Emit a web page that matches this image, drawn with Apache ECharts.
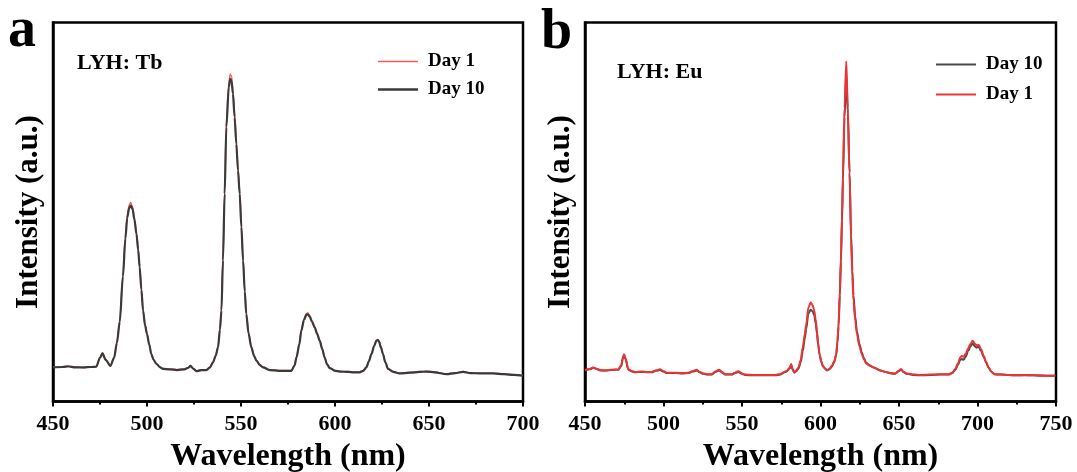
<!DOCTYPE html>
<html><head><meta charset="utf-8">
<script src="https://cdn.jsdelivr.net/npm/echarts@6/dist/echarts.min.js"></script>
<style>html,body{margin:0;padding:0;background:#fff}#c{width:1077px;height:472px}</style>
</head><body><div id="c"></div>
<script>
const tbWavelength = [450,455,458,462,466,470,473,475,476.3,478,480.5,482.5,484,485.5,487.2,488.5,489.5,490.5,491.3,492.3,493.3,494.4,495.3,496.1,497,497.9,499,500,501.2,502.3,503.5,505,507,508.5,512,516,520,522,523.1,524.5,526.3,529,531.6,533.5,535.1,536.5,537.8,538.8,539.6,540.4,541.3,542.2,543.5,544.3,545,545.7,546.6,547.5,548.4,549.3,550.2,551.1,552,552.8,554,555.5,557,558.2,560,561.7,565.3,570,576.8,578.5,579.5,581,582.1,583.5,584.8,585.6,586.5,587.8,589.2,590.5,591.9,593.2,594.5,595.8,597.2,600,602.5,607,610,613.1,615,616.7,618,619.4,620.8,622,622.8,623.4,624.5,625.5,626.8,628.2,631,634.4,640,645,648.6,653,659.3,664,668.1,672,678,684,690,695,700];
const tbDay10 = [9.0,9.1,9.3,9.0,9.0,9.1,9.2,11.5,12.7,11.0,
9.4,11.5,15.5,21.0,33.0,43.0,48.5,51.0,51.7,50.8,
48.0,44.2,40.0,35.4,29.5,24.0,20.0,17.8,15.0,12.5,
11.0,9.9,9.0,8.6,8.5,8.3,8.5,8.9,9.4,8.7,
8.0,8.3,8.3,9.0,10.3,12.0,14.3,19.0,24.0,37.2,
54.8,72.4,82.9,85.1,84.5,81.2,75.0,68.0,61.0,54.8,
46.0,37.2,29.0,23.1,18.0,14.3,12.0,10.8,9.6,9.0,
8.3,8.1,8.1,9.5,11.6,15.0,18.7,21.5,22.9,23.0,
22.4,21.0,19.5,17.8,16.0,13.8,11.6,9.8,8.8,8.1,
7.9,7.8,7.7,7.7,8.1,9.0,10.6,12.5,14.6,16.0,
16.2,15.8,14.2,12.5,10.3,8.6,7.8,7.4,7.6,7.8,
7.9,7.7,7.2,7.5,7.8,7.5,7.4,7.4,7.2,7.0,
6.8];
const tbDay1 = [9.1,9.0,9.2,9.1,8.9,9.2,9.1,11.6,12.9,11.1,
9.5,11.6,15.7,21.3,33.5,43.6,49.3,51.8,52.5,51.5,
48.6,44.6,40.4,35.7,29.8,24.3,20.2,18.0,15.1,12.6,
11.1,10.0,9.1,8.7,8.6,8.4,8.6,9.0,9.5,8.8,
8.1,8.4,8.4,9.1,10.4,12.2,14.6,19.4,24.5,37.9,
55.8,73.6,84.2,86.4,85.8,82.3,76.0,69.0,61.9,55.6,
46.7,37.8,29.5,23.5,18.3,14.5,12.1,10.9,9.7,9.1,
8.4,8.2,8.2,9.6,11.8,15.2,19.0,21.8,23.2,23.4,
22.8,21.4,19.9,18.1,16.2,14.0,11.7,9.9,8.9,8.2,
8.0,7.9,7.8,7.8,8.2,9.1,10.7,12.7,14.8,16.2,
16.4,16.0,14.4,12.6,10.4,8.7,7.9,7.5,7.7,7.9,
8.0,7.8,7.3,7.6,7.9,7.6,7.5,7.5,7.3,7.1,
6.9];
const euWavelength = [450,453,455.3,457.5,459.6,463,467,471.2,473,474.2,474.9,475.8,477.6,480,481.9,486,490,492.5,495,497.8,500,502.1,508,512,515.8,518.5,521.2,523,525.4,528,530.7,533,535.4,537.5,539.2,543.5,545.5,547.7,550,552,558,565,571.1,574.3,577.5,578.6,580.5,581.3,582.2,583.3,584.5,586,587.4,588.7,590,590.9,592.3,593.8,595,596,597,597.7,598.5,599.4,600.5,601.5,603,604.1,605.7,607.2,608.7,610,610.8,611.5,612.3,613,613.7,614.3,615.3,616.4,617.4,618.5,619.5,620.3,621,622.1,623.2,624.8,626.3,627.7,629.1,631.5,633.8,638,642.3,645,647.6,649.5,651.2,653,655,660,663.5,670,676,681.6,684,685.8,687.5,689,690,691.1,692.5,694,695.5,696.9,698.5,699.5,700.7,702.3,703.9,705.5,707,709,710.9,715,719.8,725,730,735,740,745,749.6];
const euDay1 = [8.3,8.6,9.0,8.6,8.3,8.2,8.4,8.5,9.5,11.8,
12.5,11.5,8.5,8.0,7.8,7.9,7.8,7.8,8.2,8.5,
8.0,7.6,7.6,7.5,7.6,8.0,8.4,7.8,7.4,7.2,
7.2,7.9,8.4,7.7,7.2,7.2,7.6,8.0,7.4,7.1,
7.0,7.0,7.0,7.2,7.9,8.1,9.0,9.9,8.6,7.7,
8.2,9.0,11.0,14.3,17.8,20.4,24.8,26.1,25.4,24.0,
21.5,18.7,15.5,12.5,10.6,9.4,8.7,8.3,8.6,9.4,
10.6,12.5,16.0,20.4,29.0,38.0,49.0,60.0,77.6,89.8,
77.6,60.0,42.4,33.0,26.6,21.5,17.8,14.6,12.5,11.1,
10.0,9.4,9.0,8.2,7.7,7.5,7.4,8.0,8.6,7.8,
7.4,7.1,7.0,7.1,7.2,7.2,7.6,8.6,10.0,11.6,
12.0,11.8,12.6,14.0,15.2,16.0,15.2,14.8,15.0,13.8,
12.1,10.5,9.0,7.8,7.2,7.1,7.0,6.9,7.0,6.9,
6.9,6.8,6.8];
const euDay10 = [8.2,8.5,8.9,8.6,8.2,8.2,8.3,8.4,9.3,11.4,
12.1,11.2,8.4,7.9,7.7,7.8,7.7,7.7,8.1,8.3,
7.9,7.5,7.5,7.4,7.5,7.9,8.2,7.7,7.3,7.1,
7.1,7.8,8.2,7.6,7.1,7.1,7.5,7.8,7.3,7.0,
6.9,6.9,6.9,7.1,7.8,8.0,8.8,9.6,8.5,7.6,
8.0,8.7,10.4,13.3,16.6,19.2,23.2,24.2,23.8,22.8,
20.5,18.0,15.0,12.3,10.5,9.3,8.6,8.2,8.5,9.2,
10.4,12.2,15.5,19.8,28.0,36.8,47.5,58.5,75.0,86.5,
76.0,60.5,44.0,34.5,28.0,22.5,18.5,15.2,12.9,11.4,
10.2,9.5,9.0,8.2,7.7,7.4,7.3,7.9,8.4,7.7,
7.3,7.0,6.9,7.0,7.1,7.1,7.5,8.3,9.6,11.0,
11.2,11.0,11.8,13.3,14.5,15.3,14.5,14.2,14.5,13.3,
11.8,10.3,8.9,7.8,7.2,7.1,7.0,6.9,6.9,6.9,
6.8,6.8,6.8];

const FONT = '"Liberation Serif","Times New Roman","DejaVu Serif",serif';
const zip = (xs, ys) => xs.map((x, i) => [x, ys[i]]);

function xAx(idx, max) {
  return {
    gridIndex: idx, type: 'value', min: 450, max: max, interval: 50,
    name: 'Wavelength (nm)', nameLocation: 'middle', nameGap: 37,
    nameTextStyle: {fontFamily: FONT, fontWeight: 'bold', fontSize: 32, color: '#000'},
    axisLine: {show: true, lineStyle: {color: '#000', width: 2.5}},
    axisTick: {show: true, inside: false, length: 5, lineStyle: {color: '#000', width: 2}},
    minorTick: {show: true, splitNumber: 2, length: 3, lineStyle: {color: '#000', width: 2}},
    splitLine: {show: false},
    axisLabel: {fontFamily: FONT, fontWeight: 'bold', fontSize: 22, color: '#000', margin: 12},
  };
}
function yAx(idx) {
  return {
    gridIndex: idx, type: 'value', min: 0, max: 100,
    name: 'Intensity (a.u.)', nameLocation: 'middle', nameGap: 9, nameRotate: 90,
    nameTextStyle: {fontFamily: FONT, fontWeight: 'bold', fontSize: 31, color: '#000'},
    axisLine: {show: true, lineStyle: {color: '#000', width: 2.5}},
    axisTick: {show: false}, axisLabel: {show: false}, splitLine: {show: false}
  };
}
function line(name, xi, xs, ys, color, width, z) {
  return {
    name: name, type: 'line', xAxisIndex: xi, yAxisIndex: xi, data: zip(xs, ys),
    symbol: 'none', smooth: 0.3, smoothMonotone: 'x', z: z,
    lineStyle: {color: color, width: width}, itemStyle: {color: color}
  };
}
const legendText = {fontFamily: FONT, fontWeight: 'bold', fontSize: 19, color: '#000', padding: [0, 0, 0, 5]};

const chart = echarts.init(document.getElementById('c'), null, {renderer: 'canvas'});
chart.setOption({
  animation: false,
  backgroundColor: '#fff',
  title: [
    {text: 'a', left: 8, top: 4, padding: 0, textStyle: {fontFamily: FONT, fontWeight: 'bold', fontSize: 56, color: '#000'}},
    {text: 'b', left: 541, top: 6, padding: 0, textStyle: {fontFamily: FONT, fontWeight: 'bold', fontSize: 56, color: '#000'}},
    {text: 'LYH: Tb', left: 77, top: 52, padding: 0, textStyle: {fontFamily: FONT, fontWeight: 'bold', fontSize: 22, color: '#000'}},
    {text: 'LYH: Eu', left: 617, top: 61, padding: 0, textStyle: {fontFamily: FONT, fontWeight: 'bold', fontSize: 22, color: '#000'}}
  ],
  legend: [
    {left: 378, top: 52, orient: 'vertical', itemWidth: 40, itemHeight: 14, itemGap: 9, padding: 0,
     textStyle: legendText, selectedMode: false,
     data: [{name: 'Day 1', icon: 'path://M0,0L40,0L40,1.4L0,1.4Z', itemStyle: {color: '#ff5a5a'}},
            {name: 'Day 10', icon: 'path://M0,0L40,0L40,2.6L0,2.6Z', itemStyle: {color: '#3a3a3a'}}]},
    {left: 936, top: 55, orient: 'vertical', itemWidth: 40, itemHeight: 14, itemGap: 11, padding: 0,
     textStyle: legendText, selectedMode: false,
     data: [{name: 'Day 10', icon: 'path://M0,0L40,0L40,2.2L0,2.2Z', itemStyle: {color: '#4a4a4a'}},
            {name: 'Day 1', icon: 'path://M0,0L40,0L40,2.2L0,2.2Z', itemStyle: {color: '#ee3333'}}]}
  ],
  grid: [
    {left: 53, top: 22.5, width: 470, height: 379, show: true, borderColor: '#000', borderWidth: 2.5, backgroundColor: 'transparent', containLabel: false, outerBoundsMode: 'none'},
    {left: 585, top: 22.5, width: 471, height: 379, show: true, borderColor: '#000', borderWidth: 2.5, backgroundColor: 'transparent', containLabel: false, outerBoundsMode: 'none'}
  ],
  xAxis: [xAx(0, 700), xAx(1, 750)],
  yAxis: [yAx(0), yAx(1)],
  series: [
    line('Day 1', 0, tbWavelength, tbDay1, '#ff5a5a', 1.4, 2),
    line('Day 10', 0, tbWavelength, tbDay10, '#3a3a3a', 2.2, 3),
    line('Day 10', 1, euWavelength, euDay10, '#4a4a4a', 2, 2),
    line('Day 1', 1, euWavelength, euDay1, '#ee3333', 2, 3)
  ]
});
</script></body></html>
